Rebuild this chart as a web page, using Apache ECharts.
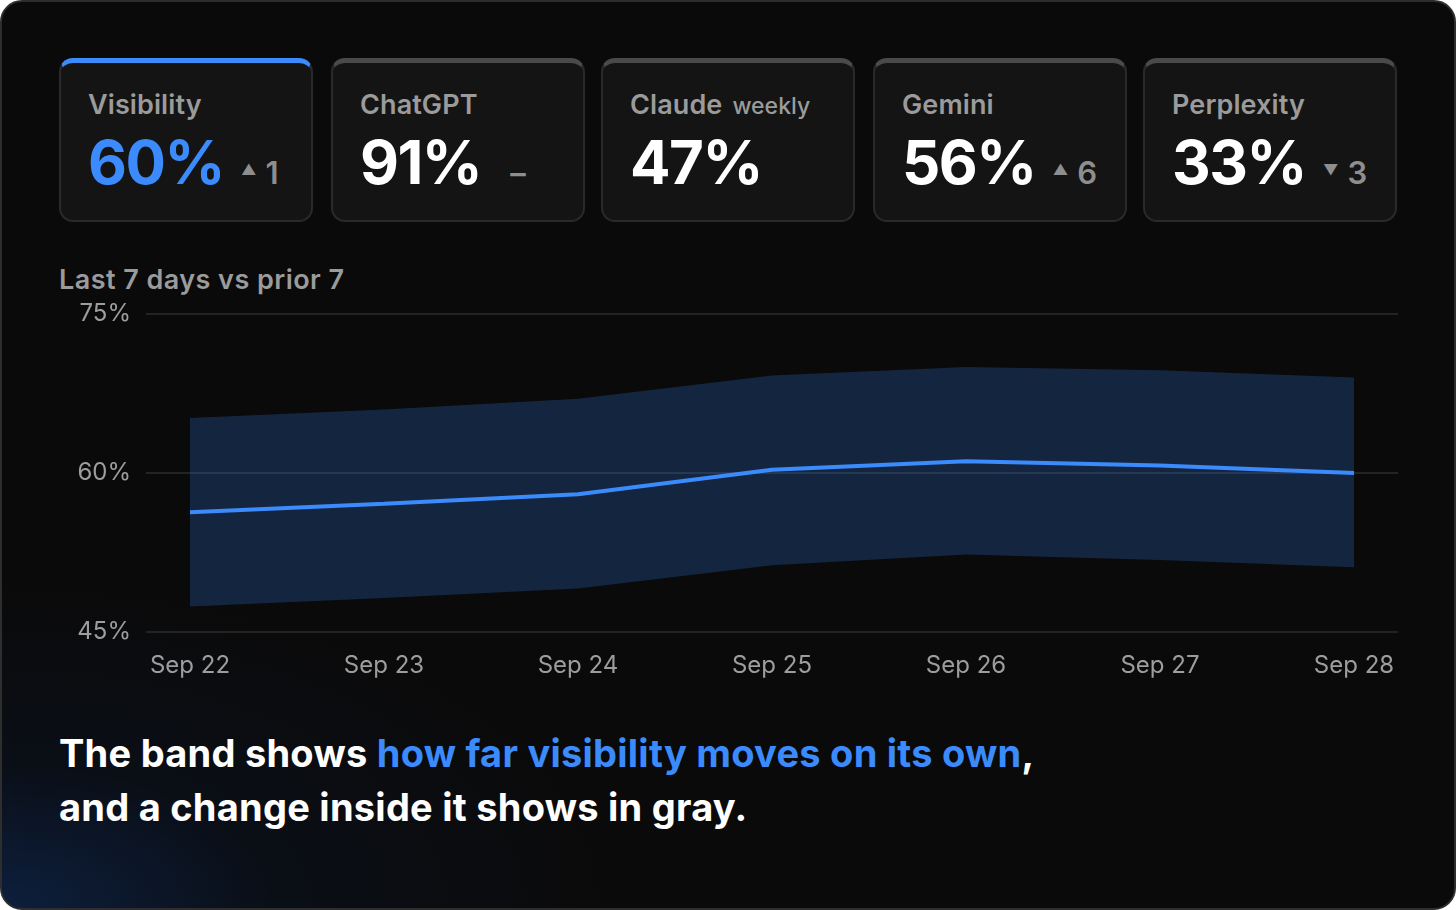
<!DOCTYPE html>
<html>
<head>
<meta charset="utf-8">
<script src="https://cdn.jsdelivr.net/npm/echarts@6/dist/echarts.min.js"></script>
<style>
  html, body { margin: 0; padding: 0; background: #ffffff; width: 1456px; height: 910px; overflow: hidden; }
  * { box-sizing: border-box; }
  #frame {
    position: absolute; left: 0; top: 0; width: 1456px; height: 910px;
    border-radius: 22px; border: 2px solid #2e2e2e;
    background: radial-gradient(ellipse 620px 330px at 0% 100%, rgba(14,38,78,0.75) 0%, rgba(10,22,44,0.35) 45%, rgba(10,10,10,0) 100%), #0a0a0a;
    overflow: hidden;
    font-family: Inter, "Noto Sans", sans-serif;
  }
  .card {
    position: absolute; top: 56px; width: 254px; height: 164px;
    background: #141414; border: 2px solid #2a2a2a; border-top: 5px solid #4a4a4a;
    border-radius: 14px;
  }
  .card.active { border-top-color: #3b8bfd; }
  .card .lab { position: absolute; left: 27px; top: 25px; font-size: 27px; font-weight: 600; color: #9b9b9b; white-space: nowrap; letter-spacing: 0.1px; }
  .card .lab .sub { font-size: 23px; font-weight: 500; margin-left: 10px; letter-spacing: 0; }
  .card .val { position: absolute; left: 27px; top: 63px; font-size: 60px; font-weight: 700; color: #ffffff; white-space: nowrap; letter-spacing: -1.5px; }
  .card.active .val { color: #3b8bfd; }
  .card .val .d { font-size: 31px; font-weight: 600; color: #8e8e8e; margin-left: 17px; letter-spacing: 0; }
  .card .val .d.flat { margin-left: 29px; }
  .card .val .d .tri { font-size: 15px; position: relative; top: -9px; margin-right: 9px; }
  #title { position: absolute; left: 57px; top: 261px; font-size: 27px; font-weight: 600; color: #9b9b9b; letter-spacing: 0.45px; }
  #chart { position: absolute; left: -2px; top: 248px; width: 1456px; height: 450px; }
  #caption { position: absolute; left: 57px; top: 724px; font-size: 38px; font-weight: 700; color: #ffffff; line-height: 54px; letter-spacing: 0.25px; }
  #caption .hl { color: #3b8bfd; }
</style>
</head>
<body>
<div id="frame">
  <div id="cards"></div>
  <div id="title">Last 7 days vs prior 7</div>
  <div id="chart"></div>
  <div id="caption">The band shows <span class="hl">how far visibility moves on its own</span>,<br>and a change inside it shows in gray.</div>
</div>
<script>
// ---- data ----
var cardLabels = ['Visibility', 'ChatGPT', 'Claude', 'Gemini', 'Perplexity'];
var cardSubs   = ['', '', 'weekly', '', ''];
var cardValues = [60, 91, 47, 56, 33];
var cardDeltaDir = ['up', 'flat', 'none', 'up', 'down'];
var cardDeltas = [1, null, null, 6, 3];
var cardLefts = [57, 329, 599, 871, 1141];

var days = ['Sep 22', 'Sep 23', 'Sep 24', 'Sep 25', 'Sep 26', 'Sep 27', 'Sep 28'];
var visibility = [56.3, 57.1, 58.0, 60.3, 61.1, 60.7, 60.0];
var bandUpper = [65.2, 66.0, 67.0, 69.2, 70.0, 69.7, 69.0];
var bandLower = [47.4, 48.2, 49.1, 51.3, 52.3, 51.8, 51.1];
var yTicks = [45, 60, 75];

// ---- cards ----
var cardsEl = document.getElementById('cards');
cardLabels.forEach(function (lab, i) {
  var c = document.createElement('div');
  c.className = 'card' + (i === 0 ? ' active' : '');
  c.style.left = cardLefts[i] + 'px';
  var d = '';
  if (cardDeltaDir[i] === 'up') d = '<span class="d"><span class="tri">▲</span>' + cardDeltas[i] + '</span>';
  else if (cardDeltaDir[i] === 'down') d = '<span class="d"><span class="tri">▼</span>' + cardDeltas[i] + '</span>';
  else if (cardDeltaDir[i] === 'flat') d = '<span class="d flat">–</span>';
  c.innerHTML = '<div class="lab">' + lab + (cardSubs[i] ? '<span class="sub">' + cardSubs[i] + '</span>' : '') + '</div>' +
                '<div class="val">' + cardValues[i] + '%' + d + '</div>';
  cardsEl.appendChild(c);
});

// ---- chart ----
var bandDiff = bandUpper.map(function (u, i) { return +(u - bandLower[i]).toFixed(2); });
var chart = echarts.init(document.getElementById('chart'), null, { renderer: 'canvas' });
var yCommon = { type: 'value', min: yTicks[0], max: yTicks[yTicks.length - 1], interval: 15 };
chart.setOption({
  backgroundColor: 'transparent',
  animation: false,
  grid: [
    { left: 146, right: 58, top: 64, bottom: 68 },
    { left: 190, right: 102, top: 64, bottom: 68 }
  ],
  xAxis: [
    { type: 'category', gridIndex: 0, data: days, show: false },
    { type: 'category', gridIndex: 1, data: days, boundaryGap: false,
      axisLine: { show: false }, axisTick: { show: false },
      axisLabel: { color: '#9d9d9d', fontSize: 24, fontFamily: 'Inter', margin: 22, interval: 0 },
      splitLine: { show: false } }
  ],
  yAxis: [
    Object.assign({ gridIndex: 0,
      axisLine: { show: false }, axisTick: { show: false },
      axisLabel: { color: '#9d9d9d', fontSize: 24, fontFamily: 'Inter', margin: 15, formatter: '{value}%' },
      splitLine: { lineStyle: { color: '#2c2c2c', width: 1.5 } } }, yCommon),
    Object.assign({ gridIndex: 1, show: false, splitLine: { show: false } }, yCommon)
  ],
  series: [
    { name: 'lower', type: 'line', xAxisIndex: 1, yAxisIndex: 1, stack: 'band', data: bandLower,
      symbol: 'none', lineStyle: { opacity: 0 }, silent: true },
    { name: 'band', type: 'line', xAxisIndex: 1, yAxisIndex: 1, stack: 'band', data: bandDiff,
      symbol: 'none', lineStyle: { opacity: 0 }, areaStyle: { color: 'rgba(56,135,255,0.22)', opacity: 1 }, silent: true },
    { name: 'Visibility', type: 'line', xAxisIndex: 1, yAxisIndex: 1, data: visibility,
      symbol: 'none', lineStyle: { color: '#3b8bfd', width: 4 }, z: 5 }
  ]
});
</script>
</body>
</html>
